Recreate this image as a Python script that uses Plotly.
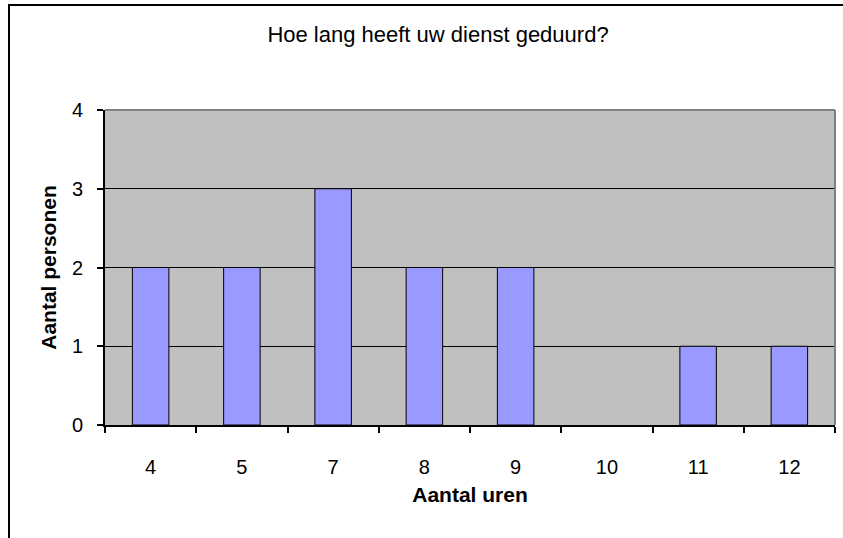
import plotly.graph_objects as go

categories = ["4", "5", "7", "8", "9", "10", "11", "12"]
values = [2, 2, 3, 2, 2, 0, 1, 1]
title_text = "Hoe lang heeft uw dienst geduurd?"
x_title = "Aantal uren"
y_title = "Aantal personen"

W, H = 843, 538
L, R, T, B = 105, 8, 110, 113
pw = W - L - R
ph = H - T - B

def px_x(x):
    return (x - L) / pw

def px_y(y):
    return (H - B - y) / ph

fig = go.Figure(go.Bar(
    x=categories, y=values,
    marker=dict(color="#9999FF",
                line=dict(color="black", width=[1 if v > 0 else 0 for v in values])),
    width=0.4,
))

font = "Liberation Sans, Arial, sans-serif"
fig.update_layout(
    width=W, height=H,
    margin=dict(l=L, r=R, t=T, b=B),
    paper_bgcolor="white", plot_bgcolor="#C0C0C0",
    showlegend=False,
    font=dict(family=font, size=20, color="black"),
    title=dict(text=title_text, x=px_x(438), xref="paper", xanchor="center",
               y=1 - 34 / H, yanchor="middle", yref="container",
               font=dict(size=22, family=font)),
    bargap=0.6,
)
fig.update_xaxes(
    type="category", tickson="boundaries", ticks="outside", ticklen=6,
    tickcolor="black", tickwidth=1.5,
    showline=True, linecolor="black", linewidth=2,
    showgrid=False, ticklabelstandoff=23,
    title=dict(text="<b>" + x_title + "</b>", standoff=10, font=dict(size=21)),
)
fig.update_yaxes(
    range=[0, 4], dtick=1, ticks="outside", ticklen=6, tickcolor="black",
    tickwidth=1.5,
    showline=True, linecolor="black", linewidth=2,
    showgrid=True, gridcolor="black", gridwidth=1, zeroline=False,
    ticklabelstandoff=10,
    title=dict(text="<b>" + y_title + "</b>", standoff=10, font=dict(size=21)),
)
# top and right plot borders (gray)
fig.add_shape(type="line", xref="paper", yref="paper", x0=0, x1=1, y0=1, y1=1,
              line=dict(color="#808080", width=2))
fig.add_shape(type="line", xref="paper", yref="paper", x0=1, x1=1, y0=0, y1=1,
              line=dict(color="#808080", width=2))
# outer chart border
fig.add_shape(type="rect", xref="paper", yref="paper",
              x0=px_x(9), x1=px_x(880), y0=px_y(5), y1=px_y(560),
              line=dict(color="black", width=2), layer="below")

fig.write_html("out.html", config={"displayModeBar": False},
               post_script="document.body.style.margin='0';document.body.style.overflow='hidden';")
